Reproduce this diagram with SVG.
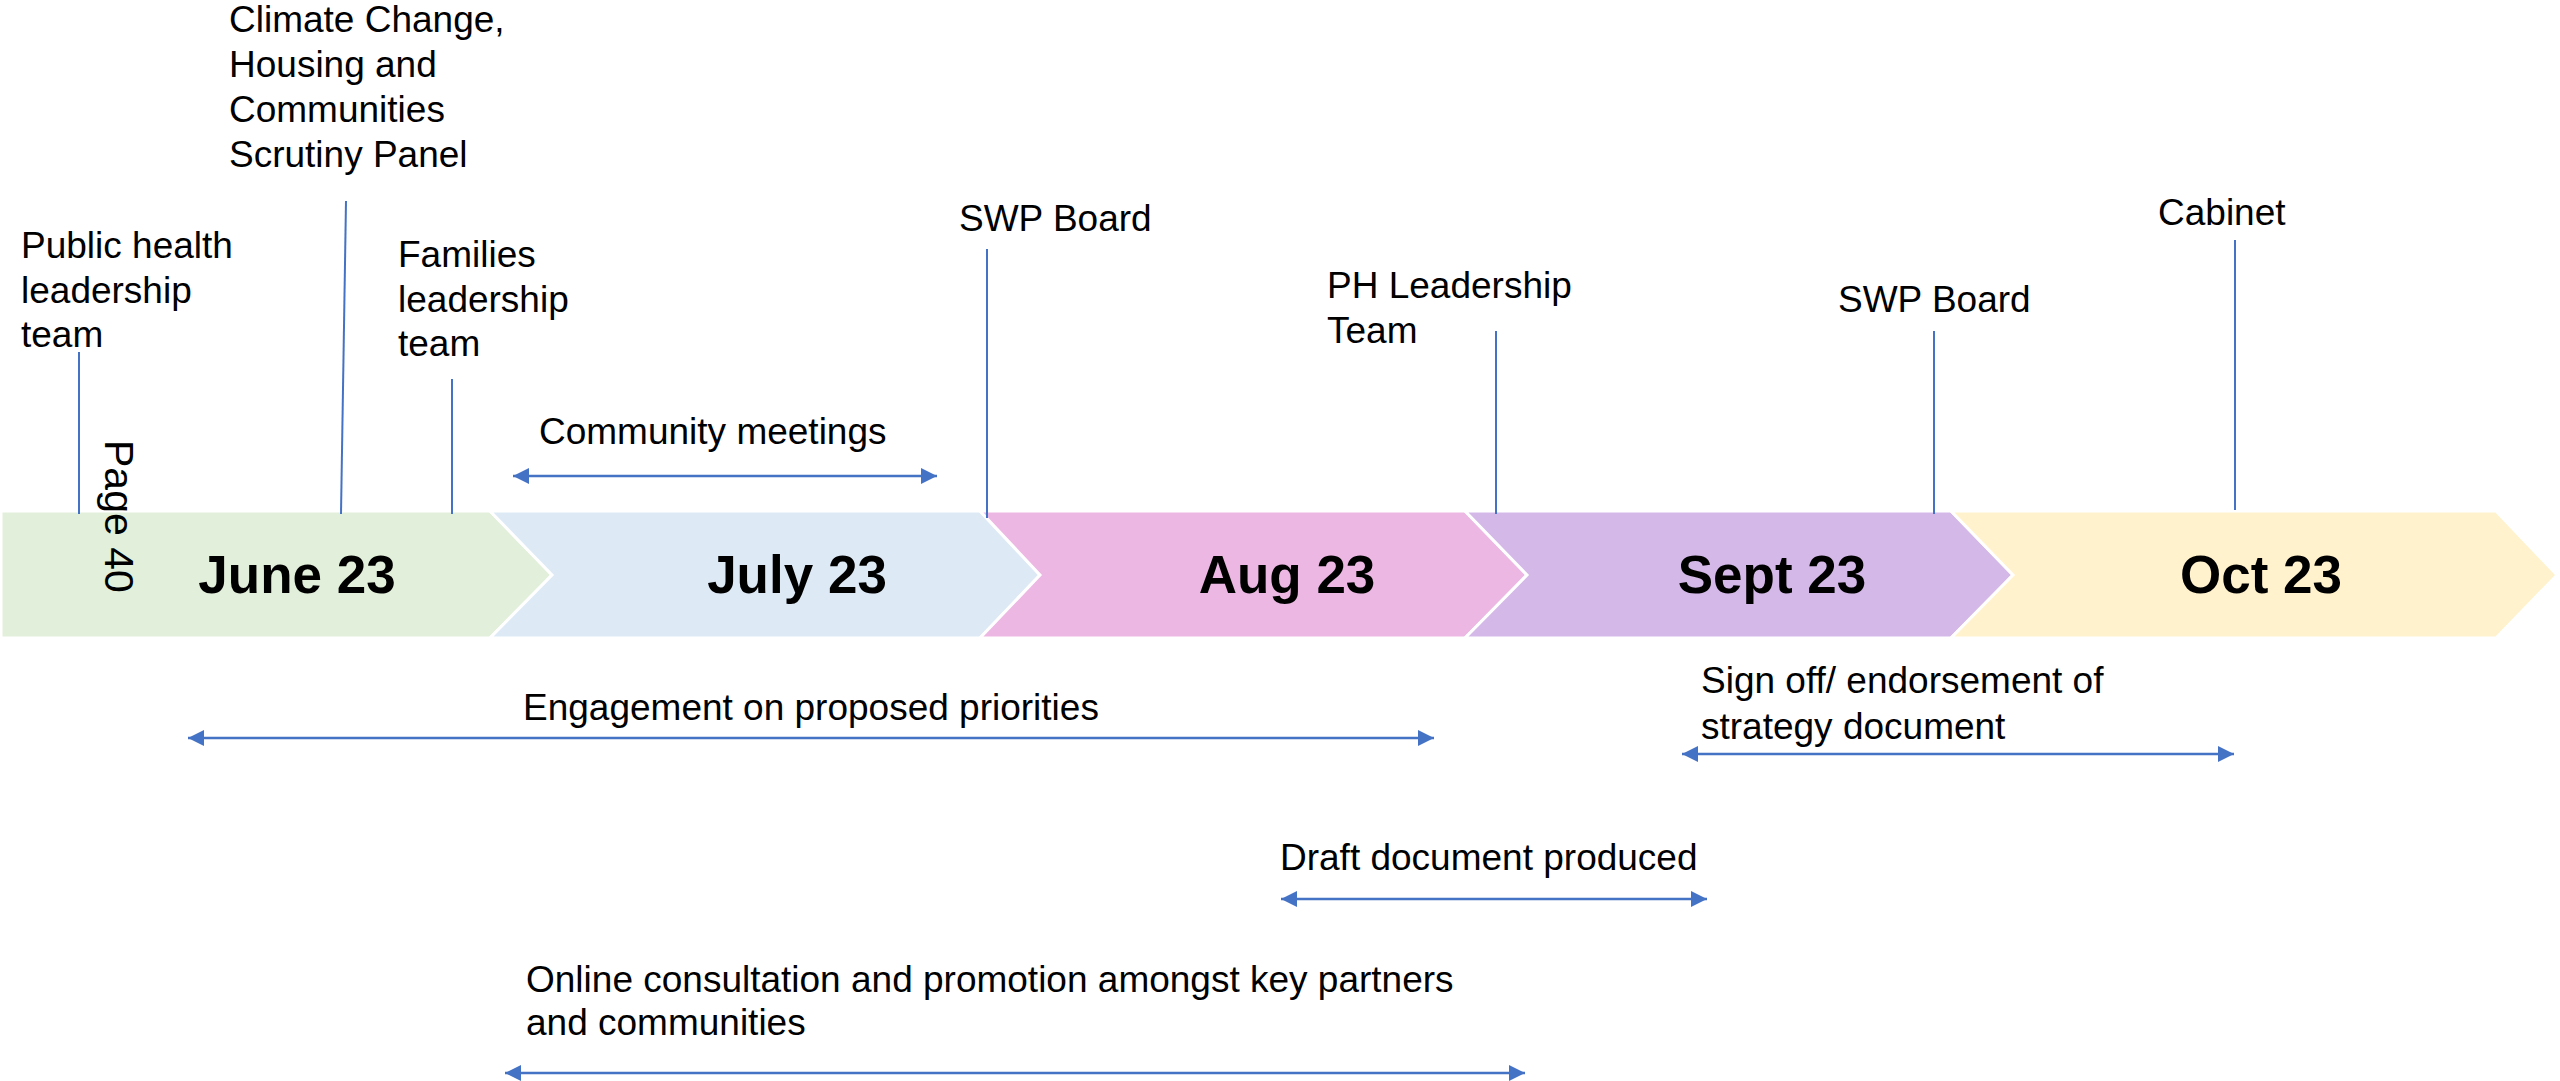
<svg xmlns="http://www.w3.org/2000/svg" width="2560" height="1081" viewBox="0 0 2560 1081">
  <style>
    .lbl { font-family: "Liberation Sans", Arial, sans-serif; font-size: 37px; fill: #000; }
    .month { font-family: "Liberation Sans", Arial, sans-serif; font-size: 53px; font-weight: bold; fill: #000; text-anchor: middle; }
    .page { font-family: "Liberation Sans", Arial, sans-serif; font-size: 41px; fill: #000; }
    .chev { stroke: #fff; stroke-width: 3; stroke-linejoin: miter; }
    .tick { stroke: #4472C4; stroke-width: 2; fill: none; }
    .span { stroke: #4472C4; stroke-width: 2.5; fill: none; marker-start: url(#tip); marker-end: url(#tip); }
  </style>
  <defs>
    <marker id="tip" viewBox="0 0 16 16" refX="16" refY="8" markerWidth="16" markerHeight="16" markerUnits="userSpaceOnUse" orient="auto-start-reverse">
      <path d="M0,0 L16,8 L0,16 z" fill="#4472C4"/>
    </marker>
  </defs>
  <rect width="2560" height="1081" fill="#fff"/>

  <!-- month band -->
  <g id="month-june">
    <polygon class="chev" fill="#E2EFDA" points="1,511 490,511 552,575 490,638 1,638"/>
    <text class="month" x="297" y="593">June 23</text>
  </g>
  <g id="month-july">
    <polygon class="chev" fill="#DDEAF6" points="490,511 980,511 1040,575 980,638 490,638 552,575"/>
    <text class="month" x="797" y="593">July 23</text>
  </g>
  <g id="month-aug">
    <polygon class="chev" fill="#ECB7E3" points="980,511 1465,511 1527,575 1465,638 980,638 1040,575"/>
    <text class="month" x="1287" y="593">Aug 23</text>
  </g>
  <g id="month-sept">
    <polygon class="chev" fill="#D4B8E8" points="1465,511 1951,511 2013,575 1951,638 1465,638 1527,575"/>
    <text class="month" x="1772" y="593">Sept 23</text>
  </g>
  <g id="month-oct">
    <polygon class="chev" fill="#FFF2CC" points="1951,511 2496,511 2557,575 2496,638 1951,638 2013,575"/>
    <text class="month" x="2261" y="593">Oct 23</text>
  </g>

  <!-- meetings above the band -->
  <g id="public-health-leadership">
    <text class="lbl" x="21" y="258">Public health</text>
    <text class="lbl" x="21" y="303">leadership</text>
    <text class="lbl" x="21" y="347">team</text>
  </g>
  <g id="scrutiny-panel">
    <text class="lbl" x="229" y="32">Climate Change,</text>
    <text class="lbl" x="229" y="77">Housing and</text>
    <text class="lbl" x="229" y="122">Communities</text>
    <text class="lbl" x="229" y="167">Scrutiny Panel</text>
  </g>
  <g id="families-leadership">
    <text class="lbl" x="398" y="267">Families</text>
    <text class="lbl" x="398" y="312">leadership</text>
    <text class="lbl" x="398" y="356">team</text>
  </g>
  <g id="swp-board-july">
    <text class="lbl" x="959" y="231">SWP Board</text>
  </g>
  <g id="ph-leadership">
    <text class="lbl" x="1327" y="298">PH Leadership</text>
    <text class="lbl" x="1327" y="343">Team</text>
  </g>
  <g id="swp-board-sept">
    <text class="lbl" x="1838" y="312">SWP Board</text>
  </g>
  <g id="cabinet">
    <text class="lbl" x="2158" y="225">Cabinet</text>
  </g>

  <!-- activity spans -->
  <g id="community-meetings">
    <text class="lbl" x="539" y="444">Community meetings</text>
  </g>
  <g id="engagement">
    <text class="lbl" x="523" y="720">Engagement on proposed priorities</text>
  </g>
  <g id="sign-off">
    <text class="lbl" x="1701" y="693">Sign off/ endorsement of</text>
    <text class="lbl" x="1701" y="739">strategy document</text>
  </g>
  <g id="draft-document">
    <text class="lbl" x="1280" y="870">Draft document produced</text>
  </g>
  <g id="online-consultation">
    <text class="lbl" x="526" y="992">Online consultation and promotion amongst key partners</text>
    <text class="lbl" x="526" y="1035">and communities</text>
  </g>

  <!-- connectors -->
  <g id="connectors">
    <line class="tick" x1="79" y1="352" x2="79" y2="514"/>
    <line class="tick" x1="346" y1="201" x2="341" y2="514"/>
    <line class="tick" x1="452" y1="379" x2="452" y2="514"/>
    <line class="tick" x1="987" y1="249" x2="987" y2="518"/>
    <line class="tick" x1="1496" y1="331" x2="1496" y2="514"/>
    <line class="tick" x1="1934" y1="331" x2="1934" y2="514"/>
    <line class="tick" x1="2235" y1="240" x2="2235" y2="510"/>

    <path class="span" d="M513,476 L937,476"/>
    <path class="span" d="M188,738 L1434,738"/>
    <path class="span" d="M1682,754 L2234,754"/>
    <path class="span" d="M1281,899 L1707,899"/>
    <path class="span" d="M505,1073 L1525,1073"/>
  </g>

  <!-- page number -->
  <text class="page" transform="translate(105,440) rotate(90)">Page 40</text>
</svg>
